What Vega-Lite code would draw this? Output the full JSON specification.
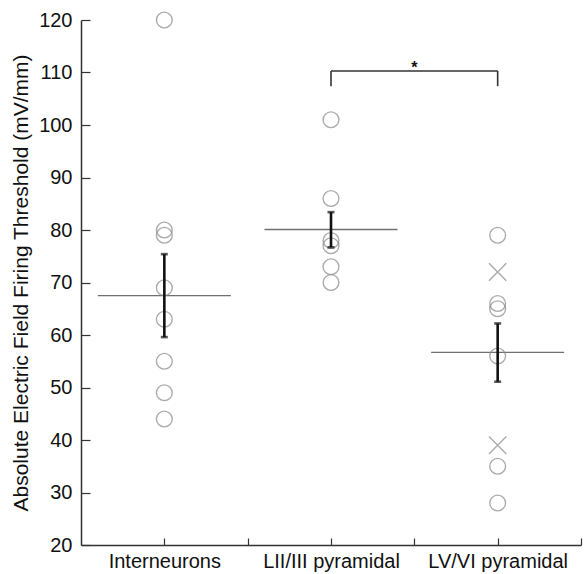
{
  "$schema": "https://vega.github.io/schema/vega-lite/v6.json",
  "width": 500,
  "height": 525,
  "autosize": {"type": "none"},
  "padding": {"left": 81, "top": 20, "right": 6, "bottom": 29},
  "background": "white",
  "config": {
    "view": {"stroke": null},
    "font": "Liberation Sans",
    "axis": {
      "grid": false,
      "domainColor": "#333333",
      "domainWidth": 1.5,
      "tickColor": "#333333",
      "tickWidth": 1.2,
      "labelColor": "#111111",
      "labelFont": "Liberation Sans",
      "labelFontSize": 20,
      "titleFont": "Liberation Sans",
      "titleFontSize": 21,
      "titleFontWeight": "normal",
      "titleColor": "#111111"
    }
  },
  "datasets": {
    "cells": [
      {"group": 1, "value": 120, "type": "circle"},
      {"group": 1, "value": 80, "type": "circle"},
      {"group": 1, "value": 79, "type": "circle"},
      {"group": 1, "value": 69, "type": "circle"},
      {"group": 1, "value": 63, "type": "circle"},
      {"group": 1, "value": 55, "type": "circle"},
      {"group": 1, "value": 49, "type": "circle"},
      {"group": 1, "value": 44, "type": "circle"},
      {"group": 3, "value": 101, "type": "circle"},
      {"group": 3, "value": 86, "type": "circle"},
      {"group": 3, "value": 78, "type": "circle"},
      {"group": 3, "value": 77, "type": "circle"},
      {"group": 3, "value": 73, "type": "circle"},
      {"group": 3, "value": 70, "type": "circle"},
      {"group": 5, "value": 79, "type": "circle"},
      {"group": 5, "value": 72, "type": "cross"},
      {"group": 5, "value": 66, "type": "circle"},
      {"group": 5, "value": 65, "type": "circle"},
      {"group": 5, "value": 56, "type": "circle"},
      {"group": 5, "value": 39, "type": "cross"},
      {"group": 5, "value": 35, "type": "circle"},
      {"group": 5, "value": 28, "type": "circle"}
    ],
    "summary": [
      {"group": 1, "mean": 67.5, "lo": 59.6, "hi": 75.4},
      {"group": 3, "mean": 80.1, "lo": 76.7, "hi": 83.4},
      {"group": 5, "mean": 56.7, "lo": 51.1, "hi": 62.2}
    ],
    "bracket": [
      {"x": 3, "x2": 5, "y": 110.3, "y2": 110.3},
      {"x": 3, "x2": 3, "y": 107.4, "y2": 110.3},
      {"x": 5, "x2": 5, "y": 107.4, "y2": 110.3}
    ],
    "sig": [{"x": 4, "y": 110.6, "label": "*"}]
  },
  "layer": [
    {
      "data": {"name": "summary"},
      "mark": {"type": "tick", "orient": "horizontal", "size": 133, "thickness": 1.3, "color": "#333333"},
      "encoding": {
        "x": {
          "field": "group", "type": "quantitative",
          "scale": {"domain": [0, 6], "nice": false, "zero": false},
          "axis": {
            "title": null,
            "values": [1, 2, 3, 4, 5, 6],
            "tickSize": -7,
            "labelPadding": 13,
            "labelExpr": "datum.value == 1 ? 'Interneurons' : datum.value == 3 ? 'LII/III pyramidal' : datum.value == 5 ? 'LV/VI pyramidal' : ''"
          }
        },
        "y": {
          "field": "mean", "type": "quantitative",
          "scale": {"domain": [20, 120], "nice": false, "zero": false},
          "axis": {
            "title": "Absolute Electric Field Firing Threshold (mV/mm)",
            "values": [20, 30, 40, 50, 60, 70, 80, 90, 100, 110, 120],
            "tickSize": -9,
            "labelPadding": 18,
            "titlePadding": 7
          }
        }
      }
    },
    {
      "data": {"name": "cells"},
      "transform": [{"filter": "datum.type == 'circle'"}],
      "mark": {"type": "point", "shape": "circle", "filled": false, "size": 250, "strokeWidth": 1.4, "color": "#8a8a8a"},
      "encoding": {
        "x": {"field": "group", "type": "quantitative"},
        "y": {"field": "value", "type": "quantitative"}
      }
    },
    {
      "data": {"name": "cells"},
      "transform": [{"filter": "datum.type == 'cross'"}],
      "mark": {"type": "point", "shape": "M-1,-1L1,1M1,-1L-1,1", "filled": false, "size": 300, "strokeWidth": 1.4, "color": "#8a8a8a"},
      "encoding": {
        "x": {"field": "group", "type": "quantitative"},
        "y": {"field": "value", "type": "quantitative"}
      }
    },
    {
      "data": {"name": "summary"},
      "mark": {"type": "rule", "strokeWidth": 2.6, "color": "#111111"},
      "encoding": {
        "x": {"field": "group", "type": "quantitative"},
        "y": {"field": "lo", "type": "quantitative"},
        "y2": {"field": "hi"}
      }
    },
    {
      "data": {"name": "summary"},
      "mark": {"type": "tick", "orient": "horizontal", "size": 7, "thickness": 2.6, "color": "#111111"},
      "encoding": {
        "x": {"field": "group", "type": "quantitative"},
        "y": {"field": "lo", "type": "quantitative"}
      }
    },
    {
      "data": {"name": "summary"},
      "mark": {"type": "tick", "orient": "horizontal", "size": 7, "thickness": 2.6, "color": "#111111"},
      "encoding": {
        "x": {"field": "group", "type": "quantitative"},
        "y": {"field": "hi", "type": "quantitative"}
      }
    },
    {
      "data": {"name": "bracket"},
      "mark": {"type": "rule", "strokeWidth": 1.6, "color": "#333333"},
      "encoding": {
        "x": {"field": "x", "type": "quantitative"},
        "x2": {"field": "x2"},
        "y": {"field": "y", "type": "quantitative"},
        "y2": {"field": "y2"}
      }
    },
    {
      "data": {"name": "sig"},
      "mark": {"type": "text", "fontSize": 16, "fontWeight": "bold", "baseline": "bottom", "color": "#111111", "dy": 7},
      "encoding": {
        "x": {"field": "x", "type": "quantitative"},
        "y": {"field": "y", "type": "quantitative"},
        "text": {"field": "label"}
      }
    }
  ]
}
